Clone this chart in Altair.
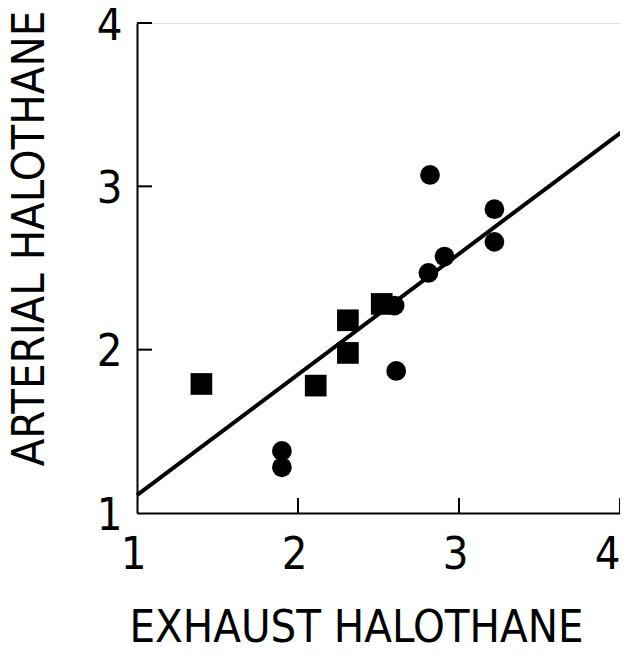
import altair as alt
import pandas as pd

# squares (group 1)
sq_x = [1.40, 2.11, 2.31, 2.31, 2.52]
sq_y = [1.79, 1.78, 2.18, 1.98, 2.28]
# circles (group 2)
ci_x = [1.90, 1.90, 2.60, 2.61, 2.81, 2.82, 2.91, 3.22, 3.22]
ci_y = [1.38, 1.28, 2.27, 1.87, 2.47, 3.07, 2.57, 2.86, 2.66]
# regression line end points
line_x = [1.0, 4.02]
line_y = [1.11, 3.34]
# axis ticks
tick_vals = [1, 2, 3, 4]
inner_ticks = [2, 3, 4]

W, H = 483, 490
FONT = "DejaVu Sans Condensed, Liberation Sans Narrow, Liberation Sans, sans-serif"

sq = pd.DataFrame({"x": sq_x, "y": sq_y})
ci = pd.DataFrame({"x": ci_x, "y": ci_y})
ln = pd.DataFrame({"x": line_x, "y": line_y})
tk = pd.DataFrame({"v": inner_ticks})

xs = alt.Scale(domain=[1, 4], nice=False, zero=False)
ys = alt.Scale(domain=[1, 4], nice=False, zero=False)

xaxis = alt.Axis(values=tick_vals, format="d", ticks=False, grid=False, domainColor="black",
                 domainWidth=2, labelFontSize=45, labelFont=FONT, labelColor="black",
                 labelFlush=False, labelPadding=19,
                 labelOffset={"condition": {"test": "datum.value == 4", "value": -13}, "value": -4},
                 labelBaseline="top", labelAngle=0,
                 title="EXHAUST  HALOTHANE", titleFont=FONT, titleFontSize=45,
                 titleFontWeight="normal", titleColor="black",
                 titleX=219, titleY=128, titleAlign="center", titleBaseline="alphabetic")
yaxis = alt.Axis(values=tick_vals, format="d", ticks=False, grid=False, domainColor="black",
                 domainWidth=2, labelFontSize=45, labelFont=FONT, labelColor="black",
                 labelFlush=False, labelPadding=15, labelAlign="right", labelBaseline="middle",
                 labelOffset=2,
                 title="ARTERIAL  HALOTHANE", titleFont=FONT, titleFontSize=45,
                 titleFontWeight="normal", titleColor="black", titleAngle=270,
                 titleX=-94, titleY=215, titleAlign="center", titleBaseline="alphabetic")

base_axes = alt.Chart(ln).mark_line(color="black", strokeWidth=4).encode(
    x=alt.X("x:Q", scale=xs, axis=xaxis),
    y=alt.Y("y:Q", scale=ys, axis=yaxis),
)

squares = alt.Chart(sq).mark_point(shape="square", filled=True, color="black",
                                    size=470, opacity=1).encode(
    x=alt.X("x:Q", scale=xs), y=alt.Y("y:Q", scale=ys))
circles = alt.Chart(ci).mark_point(shape="circle", filled=True, color="black",
                                    size=390, opacity=1).encode(
    x=alt.X("x:Q", scale=xs), y=alt.Y("y:Q", scale=ys))

yticks = alt.Chart(tk).mark_rule(color="black", strokeWidth=2).encode(
    y=alt.Y("v:Q", scale=ys), x=alt.value(0), x2=alt.value(15))
xticks = alt.Chart(tk).mark_rule(color="black", strokeWidth=2).encode(
    x=alt.X("v:Q", scale=xs), y=alt.value(H), y2=alt.value(H - 15))

chart = alt.layer(base_axes, squares, circles, yticks, xticks).properties(
    width=W, height=H,
    autosize=alt.AutoSizeParams(type="none"),
    padding={"left": 129, "top": 15, "right": 0, "bottom": 133},
).configure_view(stroke=None).configure(background="white")

chart.save("out.html", embed_options={"renderer": "svg", "actions": False})
